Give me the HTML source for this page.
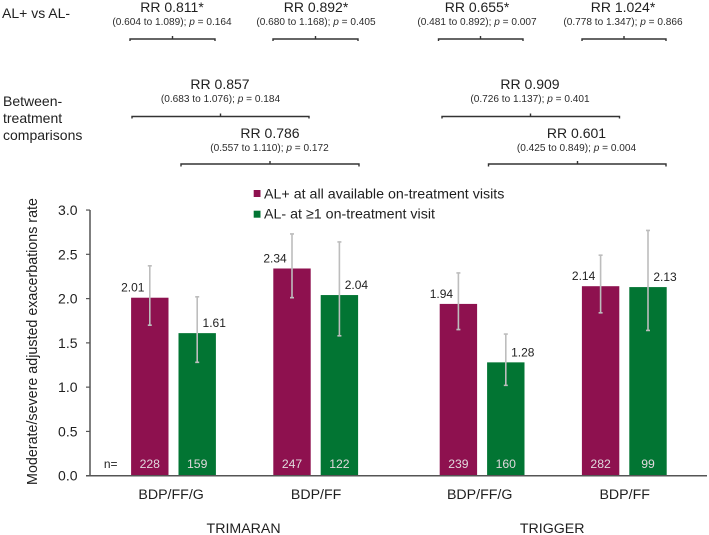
<!DOCTYPE html>
<html>
<head>
<meta charset="utf-8">
<style>
html,body{margin:0;padding:0;background:#fff;}
svg{display:block;filter:blur(0.35px);}
text{font-family:"Liberation Sans",sans-serif;fill:#1f1f1f;}
.rr{font-size:14px;text-anchor:middle;}
.ci{font-size:10.1px;text-anchor:middle;fill:#2b2b2b;}
.lab{font-size:14px;}
.leg{font-size:14.25px;}
.br{fill:none;stroke:#333;stroke-width:1.4;}
</style>
</head>
<body>
<svg id="chart" width="709" height="535" viewBox="0 0 709 535" xmlns="http://www.w3.org/2000/svg">
  <g>
    <text class="lab" x="2" y="18">AL+ vs AL-</text>
    <text class="lab" x="3" y="106">Between-</text>
    <text class="lab" x="3" y="123">treatment</text>
    <text class="lab" x="3" y="140">comparisons</text>
  </g>
  <g>
    <text class="rr" x="172" y="12">RR 0.811*</text>
    <text class="ci" x="172" y="25">(0.604 to 1.089); <tspan font-style="italic">p</tspan> = 0.164</text>
    <path class="br" d="M130 41V39H215V41M172.500 39V36"/>
    <text class="rr" x="316" y="12">RR 0.892*</text>
    <text class="ci" x="316" y="25">(0.680 to 1.168); <tspan font-style="italic">p</tspan> = 0.405</text>
    <path class="br" d="M273 41V39H358V41M315.500 39V36"/>
    <text class="rr" x="477" y="12">RR 0.655*</text>
    <text class="ci" x="477" y="25">(0.481 to 0.892); <tspan font-style="italic">p</tspan> = 0.007</text>
    <path class="br" d="M438.500 41V39H523V41M480.500 39V36"/>
    <text class="rr" x="623" y="12">RR 1.024*</text>
    <text class="ci" x="623" y="25">(0.778 to 1.347); <tspan font-style="italic">p</tspan> = 0.866</text>
    <path class="br" d="M582 41V39H666V41M624 39V36"/>
  </g>
  <g>
    <text class="rr" x="220" y="89">RR 0.857</text>
    <text class="ci" x="220.500" y="102">(0.683 to 1.076); <tspan font-style="italic">p</tspan> = 0.184</text>
    <path class="br" d="M132 118.500V116.500H309V118.500M220.500 116.500V113.500"/>
    <text class="rr" x="270" y="138">RR 0.786</text>
    <text class="ci" x="269.500" y="151">(0.557 to 1.110); <tspan font-style="italic">p</tspan> = 0.172</text>
    <path class="br" d="M181 166.500V164H359V166.500M270 164V161"/>
    <text class="rr" x="530" y="89">RR 0.909</text>
    <text class="ci" x="530" y="102">(0.726 to 1.137); <tspan font-style="italic">p</tspan> = 0.401</text>
    <path class="br" d="M442 118.500V116.500H619.500V118.500M530.500 116.500V113.500"/>
    <text class="rr" x="576.500" y="138">RR 0.601</text>
    <text class="ci" x="576.500" y="151">(0.425 to 0.849); <tspan font-style="italic">p</tspan> = 0.004</text>
    <path class="br" d="M488.500 166.500V164H666V166.500M577.500 164V161"/>
  </g>
  <g>
    <rect x="253.700" y="190" width="6.800" height="7" fill="#8e114f"/>
    <text class="leg" x="264" y="198.500">AL+ at all available on-treatment visits</text>
    <rect x="253.700" y="210.700" width="6.800" height="7" fill="#027533"/>
    <text class="leg" x="264" y="218.500">AL- at ≥1 on-treatment visit</text>
  </g>
  <text transform="translate(37 341.500) rotate(-90)" text-anchor="middle" style="font-size:14.3px">Moderate/severe adjusted exacerbations rate</text>
  <text x="110.700" y="468" text-anchor="middle" style="font-size:12px">n=</text>
  <g id="plot"></g>
</svg>
<script>
const categories = ["BDP/FF/G", "BDP/FF", "BDP/FF/G", "BDP/FF"];
const trialNames = ["TRIMARAN", "TRIGGER"];
const categoryTrial = [0, 0, 1, 1];
const alPlusRates = [2.01, 2.34, 1.94, 2.14];
const alPlusUpper = [2.37, 2.73, 2.29, 2.49];
const alPlusLower = [1.70, 2.01, 1.65, 1.84];
const alPlusN = [228, 247, 239, 282];
const alMinusRates = [1.61, 2.04, 1.28, 2.13];
const alMinusUpper = [2.02, 2.64, 1.60, 2.77];
const alMinusLower = [1.28, 1.58, 1.02, 1.64];
const alMinusN = [159, 122, 160, 99];
const yTicks = [0, 0.5, 1, 1.5, 2, 2.5, 3];

const NS = 'http://www.w3.org/2000/svg';
const plot = document.getElementById('plot');
function yScale(v) { return 475.7 - v * 88.55; }
function groupCenter(i) { return 173.5 + 142.2 * i + 24.2 * categoryTrial[i]; }
function make(tag, attrs, parent) {
  const el = document.createElementNS(NS, tag);
  for (const k in attrs) el.setAttribute(k, attrs[k]);
  (parent || plot).appendChild(el);
  return el;
}
const BAR_W = 37.4, OFFSET = 23.7;

function drawSeries(key, color, rates, upper, lower, ns, sign) {
  rates.forEach(function (v, i) {
    const cx = groupCenter(i) + sign * OFFSET;
    const bar = make('rect', {x: cx - BAR_W / 2, y: yScale(v), width: BAR_W, height: yScale(0) - yScale(v), fill: color});
    
    
    const err = make('path', {
      d: 'M' + (cx - 2) + ' ' + yScale(upper[i]) + 'H' + (cx + 2) + 'M' + cx + ' ' + yScale(upper[i]) + 'V' + yScale(lower[i]) + 'M' + (cx - 2) + ' ' + yScale(lower[i]) + 'H' + (cx + 2),
      fill: 'none', stroke: '#bdbdbd', 'stroke-width': 1.6
    });
    
    
    const lab = make('text', {x: cx + sign * 17, y: yScale(v) - 6, 'text-anchor': 'middle', style: 'font-size:12px'});
    lab.textContent = v.toFixed(2);
    
    
    const nl = make('text', {x: cx, y: 468, 'text-anchor': 'middle', style: 'font-size:12.2px;fill:#e0d8dc'});
    nl.textContent = ns[i];
    
    
  });
}
drawSeries('al-plus', '#8e114f', alPlusRates, alPlusUpper, alPlusLower, alPlusN, -1);
drawSeries('al-minus', '#027533', alMinusRates, alMinusUpper, alMinusLower, alMinusN, 1);

yTicks.forEach(function (t) {
  const tick = make('line', {x1: 86, x2: 90, y1: yScale(t), y2: yScale(t), stroke: '#555', 'stroke-width': 1.2});
  
  
  const lab = make('text', {x: 77.5, y: yScale(t) + 5, 'text-anchor': 'end', style: 'font-size:14px'});
  lab.textContent = t.toFixed(1);
  
  
});

const yAxis = make('line', {x1: 90, x2: 90, y1: yScale(3), y2: yScale(0), stroke: '#555', 'stroke-width': 1.5});


const xAxis = make('line', {x1: 86, x2: 707, y1: yScale(0), y2: yScale(0), stroke: '#555', 'stroke-width': 1.5});



categories.forEach(function (c, i) {
  const nudge = c.endsWith('/G') ? -2.4 : 0.4;
  const lab = make('text', {x: groupCenter(i) + nudge, y: 499, 'text-anchor': 'middle', style: 'font-size:14.2px'});
  lab.textContent = c;
  
  
});
trialNames.forEach(function (name, t) {
  const members = categories.map(function (_, i) { return i; }).filter(function (i) { return categoryTrial[i] === t; });
  const mid = (groupCenter(members[0]) + groupCenter(members[members.length - 1])) / 2;
  const lab = make('text', {x: mid - 1, y: 533, 'text-anchor': 'middle', style: 'font-size:14.2px'});
  lab.textContent = name;
  
  
});
</script>
</body>
</html>
